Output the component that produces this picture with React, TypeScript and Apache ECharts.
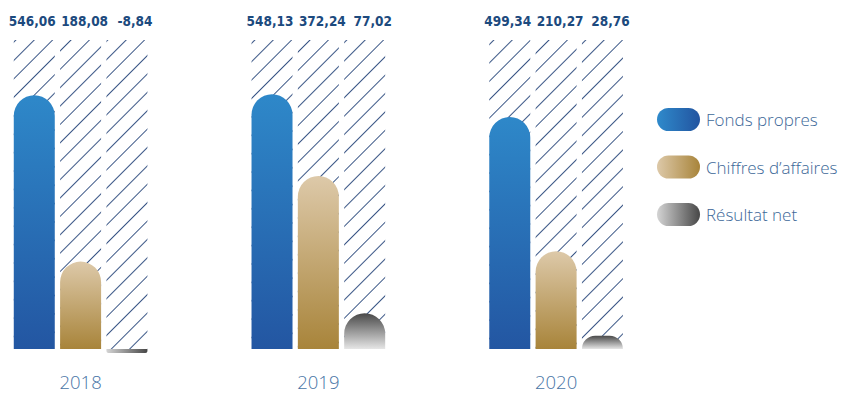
import React, { useEffect, useRef } from "react";
import * as echarts from "echarts";

const years = ["2018", "2019", "2020"];
const fondsPropres = [546.06, 548.13, 499.34];
const chiffresAffaires = [188.08, 372.24, 210.27];
const resultatNet = [-8.84, 77.02, 28.76];
const seriesNames = ["Fonds propres", "Chiffres d’affaires", "Résultat net"];

const HATCH_TOP = 665;

const fmt = (v: number) => v.toFixed(2).replace(".", ",");

const vGrad = (top: string, bottom: string) =>
  new echarts.graphic.LinearGradient(0, 0, 0, 1, [
    { offset: 0, color: top },
    { offset: 1, color: bottom },
  ]);
const hGrad = (left: string, right: string) =>
  new echarts.graphic.LinearGradient(0, 0, 1, 0, [
    { offset: 0, color: left },
    { offset: 1, color: right },
  ]);

export default function App() {
  const ref = useRef<HTMLDivElement>(null);
  useEffect(() => {
    if (!ref.current) return;
    const chart = echarts.init(ref.current, undefined, { renderer: "svg" });
    const BAR_W = 41;
    const GAP = "13%";
    const radius = [20.5, 20.5, 0, 0];
    const decal = {
      symbol: "rect",
      symbolSize: 1,
      dashArrayX: [1, 0],
      dashArrayY: [1, 12],
      rotation: -Math.PI / 4,
      color: "#3a5686",
      backgroundColor: "#ffffff",
    };
    const labelOffsets = [-2, 4, 8];
    const allValues = [fondsPropres, chiffresAffaires, resultatNet];
    const hatchSeries = allValues.map((vals, k) => ({
      type: "bar",
      name: "hatch" + k,
      xAxisIndex: 1,
      barWidth: BAR_W,
      barGap: GAP,
      clip: false,
      silent: true,
      data: vals.map(() => HATCH_TOP),
      itemStyle: { color: "#ffffff", decal },
      label: {
        show: true,
        position: "top",
        distance: 12,
        offset: [labelOffsets[k], 0],
        formatter: (p: any) => fmt(vals[p.dataIndex]),
        fontFamily: "DejaVu Sans Condensed",
        fontWeight: "bold",
        fontSize: 13.5,
        color: "#1c4a7e",
      },
    }));

    const colors = [
      { v: vGrad("#2e88c9", "#2356a2"), h: hGrad("#2f8acb", "#2254a0") },
      { v: vGrad("#ddc9a9", "#a8843a"), h: hGrad("#ddc9a9", "#a8843a") },
      { v: vGrad("#484848", "#e6e6e6"), h: hGrad("#d4d4d4", "#474747") },
    ];

    const dataSeries = allValues.map((vals, k) => ({
      type: "bar",
      name: seriesNames[k],
      xAxisIndex: 0,
      barWidth: BAR_W,
      barGap: GAP,
      clip: false,
      data: vals.map((v) =>
        v < 0
          ? { value: v, itemStyle: { color: colors[k].h, borderRadius: [0, 0, 2, 2] } }
          : v
      ),
      itemStyle: { color: colors[k].v, borderRadius: radius },
    }));

    const pill =
      "path://M11.5,0 H31.5 A11.5,11.5 0 0 1 31.5,23 H11.5 A11.5,11.5 0 0 1 11.5,0 Z";

    chart.setOption({
      animation: false,
      backgroundColor: "#ffffff",
      grid: { left: 80.6, right: 286.9, top: 40, bottom: 34.7 },
      legend: {
        orient: "vertical",
        left: 652,
        top: 103,
        itemWidth: 43,
        itemHeight: 23,
        itemGap: 24.5,
        selectedMode: false,
        icon: pill,
        data: seriesNames.map((n, k) => ({ name: n, itemStyle: { color: colors[k].h } })),
        textStyle: {
          fontFamily: "Open Sans",
          fontWeight: 300,
          fontSize: 17,
          color: "#3d6898",
          padding: [0, 0, 0, 1],
        },
      },
      xAxis: [
        {
          type: "category",
          data: years,
          boundaryGap: false,
          axisLine: { show: false, onZero: false },
          axisTick: { show: false },
          splitLine: { show: false },
          axisLabel: {
            margin: 15,
            fontFamily: "Open Sans",
            fontWeight: 300,
            fontSize: 18.5,
            lineHeight: 17,
            color: "#4874a6",
          },
        },
        {
          type: "category",
          data: years,
          boundaryGap: false,
          show: false,
        },
      ],
      yAxis: {
        type: "value",
        min: -20,
        max: HATCH_TOP,
        show: false,
        splitLine: { show: false },
      },
      series: [...hatchSeries, ...dataSeries],
    });
    return () => chart.dispose();
  }, []);
  return (
    <div
      ref={ref}
      style={{ position: "absolute", left: 0, top: 0, width: 843, height: 393 }}
    />
  );
}
